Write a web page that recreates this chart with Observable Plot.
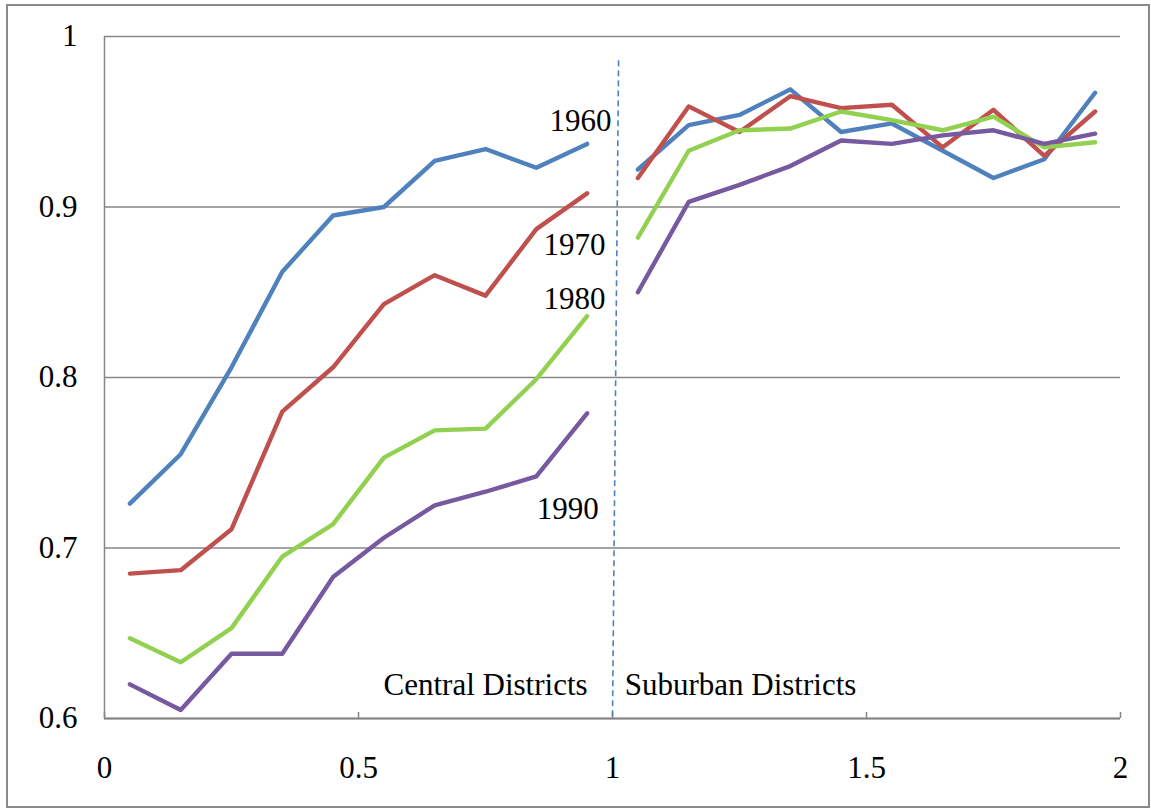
<!DOCTYPE html>
<html>
<head>
<meta charset="utf-8">
<script src="https://cdn.jsdelivr.net/npm/d3@7"></script>
<script src="https://cdn.jsdelivr.net/npm/@observablehq/plot@0.6"></script>
<style>
  html, body { margin: 0; padding: 0; background: #fff; }
  #wrap { position: relative; width: 1151px; height: 812px; overflow: hidden; }
  #border { position: absolute; left: 6px; top: 4px; width: 1144px; height: 804px; border: 2px solid #8a8a8a; box-sizing: border-box; }
  #chart { position: absolute; left: 0; top: 0; }
</style>
</head>
<body>
<div id="wrap"><div id="border"></div><div id="chart"></div></div>
<script>
// Distance bins
const xCentral = [0.05, 0.15, 0.25, 0.35, 0.45, 0.55, 0.65, 0.75, 0.85, 0.95];
const xSuburban = [1.05, 1.15, 1.25, 1.35, 1.45, 1.55, 1.65, 1.75, 1.85, 1.95];

// Series values
const years = ["1960", "1970", "1980", "1990"];
const v1960Central = [0.726, 0.755, 0.806, 0.862, 0.895, 0.900, 0.927, 0.934, 0.923, 0.937];
const v1960Suburban = [0.922, 0.948, 0.954, 0.969, 0.944, 0.949, 0.933, 0.917, 0.928, 0.967];
const v1970Central = [0.685, 0.687, 0.711, 0.780, 0.806, 0.843, 0.860, 0.848, 0.887, 0.908];
const v1970Suburban = [0.917, 0.959, 0.944, 0.965, 0.958, 0.960, 0.935, 0.957, 0.930, 0.956];
const v1980Central = [0.647, 0.633, 0.653, 0.695, 0.714, 0.753, 0.769, 0.770, 0.799, 0.836];
const v1980Suburban = [0.882, 0.933, 0.945, 0.946, 0.956, 0.951, 0.945, 0.953, 0.935, 0.938];
const v1990Central = [0.620, 0.605, 0.638, 0.638, 0.683, 0.706, 0.725, 0.733, 0.742, 0.779];
const v1990Suburban = [0.850, 0.903, 0.913, 0.924, 0.939, 0.937, 0.942, 0.945, 0.937, 0.943];
const colors = ["#4F81BD", "#C0504D", "#92D050", "#7759A0"];

// Ticks
const xTicks = [0, 0.5, 1, 1.5, 2];
const xTickLabels = ["0", "0.5", "1", "1.5", "2"];
const yTicks = [0.6, 0.7, 0.8, 0.9, 1];
const yTickLabels = ["0.6", "0.7", "0.8", "0.9", "1"];

// Annotations
const yearLabelX = [0.937, 0.925, 0.925, 0.912];
const yearLabelY = [0.9503, 0.8774, 0.8461, 0.7229];
const centralLabel = ["Central Districts"];
const centralLabelX = [0.951];
const suburbanLabel = ["Suburban Districts"];
const suburbanLabelX = [1.024];
const regionLabelY = [0.6194];
const dividerX = [1.012, 1.0];
const dividerY = [0.986, 0.6];

const seriesValues = {
  "1960": [v1960Central, v1960Suburban],
  "1970": [v1970Central, v1970Suburban],
  "1980": [v1980Central, v1980Suburban],
  "1990": [v1990Central, v1990Suburban]
};
const rows = [];
for (const y of years) {
  const [c, s] = seriesValues[y];
  xCentral.forEach((x, i) => rows.push({year: y, part: "central", key: y + "c", x, v: c[i]}));
  xSuburban.forEach((x, i) => rows.push({year: y, part: "suburban", key: y + "s", x, v: s[i]}));
}
const yearLabels = years.map((y, i) => ({text: y, x: yearLabelX[i], y: yearLabelY[i]}));
const centralText = [{text: centralLabel[0], x: centralLabelX[0], y: regionLabelY[0]}];
const suburbanText = [{text: suburbanLabel[0], x: suburbanLabelX[0], y: regionLabelY[0]}];
const divider = [{x1: dividerX[0], y1: dividerY[0], x2: dividerX[1], y2: dividerY[1]}];

const font = "'Liberation Serif', 'Times New Roman', serif";
const gridColor = "#868686";

const plot = Plot.plot({
  width: 1151,
  height: 812,
  marginLeft: 104,
  marginRight: 31,
  marginTop: 36,
  marginBottom: 94,
  style: {fontFamily: font, fontSize: "31px", color: "#000", background: "transparent"},
  x: {domain: [0, 2]},
  y: {domain: [0.6, 1]},
  color: {domain: years, range: colors},
  marks: [
    Plot.gridY(yTicks, {stroke: gridColor, strokeOpacity: 1, strokeWidth: 1.5}),
    Plot.ruleX([0], {stroke: gridColor, strokeWidth: 1.5}),
    Plot.ruleY([0.6], {stroke: gridColor, strokeWidth: 1.8}),
    Plot.axisY({ticks: yTicks, tickSize: 0, tickPadding: 27, tickFormat: (d) => yTickLabels[yTicks.indexOf(d)], label: null, fontSize: 31}),
    Plot.axisX({ticks: xTicks, tickSize: 0, tickPadding: 37, tickFormat: (d) => xTickLabels[xTicks.indexOf(d)], label: null, fontSize: 31}),
    Plot.axisX({ticks: xTicks, tickSize: 6, dy: -6, tickFormat: () => "", label: null, stroke: gridColor, strokeWidth: 1.5}),
    Plot.link(divider, {x1: "x1", y1: "y1", x2: "x2", y2: "y2", stroke: "#4F81BD", strokeWidth: 1.6, strokeDasharray: "6,4"}),
    Plot.line(rows, {x: "x", y: "v", z: "key", stroke: "year", strokeWidth: 4.4, strokeLinecap: "round", strokeLinejoin: "round"}),
    Plot.text(yearLabels, {x: "x", y: "y", text: "text", fontSize: 31, fill: "#000", lineAnchor: "middle"}),
    Plot.text(centralText, {x: "x", y: "y", text: "text", textAnchor: "end", fontSize: 31, fill: "#000", lineAnchor: "middle"}),
    Plot.text(suburbanText, {x: "x", y: "y", text: "text", textAnchor: "start", fontSize: 31, fill: "#000", lineAnchor: "middle"})
  ]
});
document.getElementById("chart").appendChild(plot);
</script>
</body>
</html>
